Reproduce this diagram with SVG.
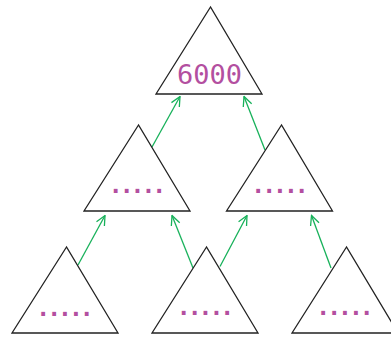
<svg xmlns="http://www.w3.org/2000/svg" width="391" height="337" viewBox="0 0 391 337">
<style>
.tri{fill:none;stroke:#222;stroke-width:1.3;stroke-linejoin:miter}
.lbl{font-family:"DejaVu Sans Mono",monospace;fill:#b34fa0;text-anchor:middle}
.big{font-size:27px}
.dots{font-size:23px;font-weight:bold;letter-spacing:-2.95px}
.edge{stroke:#17b15a;stroke-width:1.3;fill:none;marker-end:url(#arr)}
</style>
<defs>
<marker id="arr" markerUnits="userSpaceOnUse" viewBox="-11 -6 12 12" refX="0" refY="0" markerWidth="12" markerHeight="12" orient="auto">
<path d="M-9.5,-4.5 L0,0 L-9.5,4.5" fill="none" stroke="#17b15a" stroke-width="1.3"/>
</marker>
</defs>
<g id="connectors">
<line class="edge" x1="152" y1="147" x2="180" y2="96.5"/>
<line class="edge" x1="265" y1="150" x2="244" y2="96.5"/>
<line class="edge" x1="78" y1="265" x2="105" y2="215.5"/>
<line class="edge" x1="193" y1="268" x2="172" y2="215.5"/>
<line class="edge" x1="220" y1="266.5" x2="247" y2="215.5"/>
<line class="edge" x1="331" y1="268" x2="311.5" y2="215.5"/>
</g>
<g id="n0">
<polygon class="tri" points="210.5,7 156,94 262,94"/>
<text class="lbl big" x="209.5" y="84">6000</text>
</g>
<g id="n1">
<polygon class="tri" points="138.5,125 84,211 190,211"/>
<text class="lbl dots" x="136" y="193">.....</text>
</g>
<g id="n2">
<polygon class="tri" points="281.5,125 226.5,211 332.5,211"/>
<text class="lbl dots" x="278.5" y="193">.....</text>
</g>
<g id="n3">
<polygon class="tri" points="66.5,247 12,333 118,333"/>
<text class="lbl dots" x="63.5" y="315.5">.....</text>
</g>
<g id="n4">
<polygon class="tri" points="206.5,247 152,333 258,333"/>
<text class="lbl dots" x="204" y="314.5">.....</text>
</g>
<g id="n5">
<polygon class="tri" points="346.5,247 292,333 398,333"/>
<text class="lbl dots" x="343.5" y="314.5">.....</text>
</g>
</svg>
